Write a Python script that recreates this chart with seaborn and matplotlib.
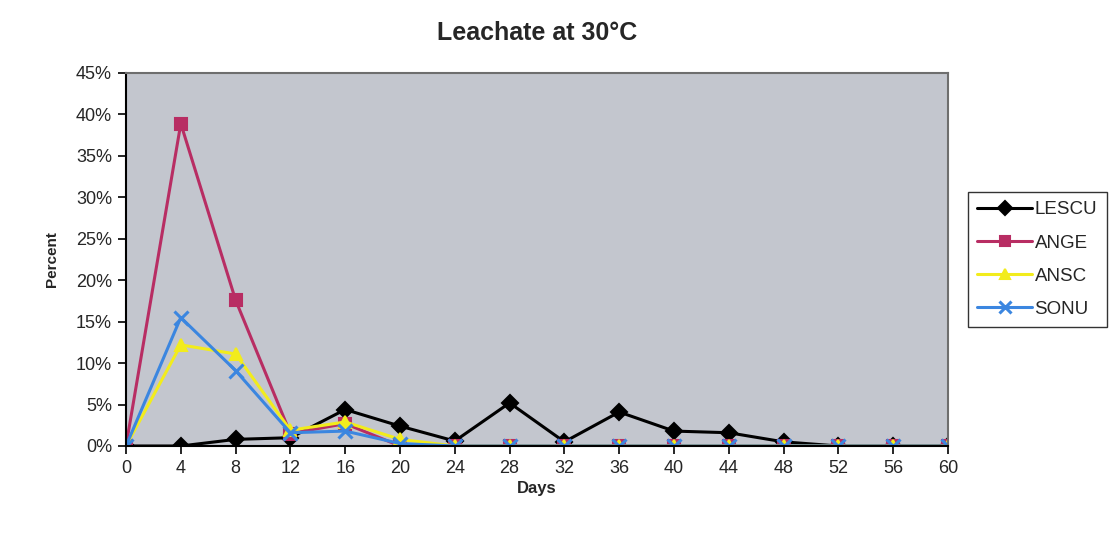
import matplotlib
matplotlib.use("Agg")
import matplotlib.pyplot as plt
import matplotlib.colors as mcolors
import seaborn as sns
import pandas as pd
from matplotlib.ticker import PercentFormatter

days = [0, 4, 8, 12, 16, 20, 24, 28, 32, 36, 40, 44, 48, 52, 56, 60]
lescu = [0.0, 0.0, 0.8, 1.0, 4.4, 2.4, 0.6, 5.2, 0.5, 4.1, 1.8, 1.6, 0.5, 0.0, 0.0, 0.0]
ange = [0.0, 38.9, 17.6, 1.5, 2.7, 0.0, 0.0, 0.0, 0.0, 0.0, 0.0, 0.0, 0.0, 0.0, 0.0, 0.0]
ansc = [0.0, 12.2, 11.1, 1.9, 2.9, 0.8, 0.0, 0.0, 0.0, 0.0, 0.0, 0.0, 0.0, 0.0, 0.0, 0.0]
sonu = [0.0, 15.5, 9.1, 1.6, 1.8, 0.3, 0.0, 0.0, 0.0, 0.0, 0.0, 0.0, 0.0, 0.0, 0.0, 0.0]
series_names = ["LESCU", "ANGE", "ANSC", "SONU"]

frames = []
for name, vals in zip(series_names, [lescu, ange, ansc, sonu]):
    frames.append(pd.DataFrame({"Days": days, "Percent": vals, "Series": name}))
df = pd.concat(frames, ignore_index=True)

palette = {"LESCU": "#000000", "ANGE": "#b82d63", "ANSC": "#f2ec1c", "SONU": "#3b86e0"}
markers = {"LESCU": "D", "ANGE": "s", "ANSC": "^", "SONU": "X"}

sns.set_style("white")
plt.rcParams["font.family"] = ["Liberation Sans", "DejaVu Sans"]

fig = plt.figure(figsize=(11.15, 5.58), dpi=100)
fig.patch.set_facecolor("white")
ax = fig.add_axes([126 / 1115, 1 - 446 / 558, (948 - 126) / 1115, (446 - 73) / 558])
ax.set_facecolor("#c3c6ce")

sns.lineplot(data=df, x="Days", y="Percent", hue="Series", style="Series",
             palette=palette, markers=markers, dashes=False, linewidth=2.2,
             markersize=8, ax=ax, legend=True)

sonu_rgb = mcolors.to_rgb(palette["SONU"])


def restyle(ln, ms):
    c = ln.get_color()
    ln.set_markeredgecolor(c)
    ln.set_markeredgewidth(1.5)
    ln.set_markersize(ms)
    if mcolors.to_rgb(c) == sonu_rgb:
        ln.set_marker("x")
        ln.set_markersize(ms + 2)
        ln.set_markeredgewidth(2.2)


for ln in ax.lines:
    restyle(ln, 8)

ax.set_xlim(0, 60)
ax.set_ylim(0, 45)
ax.set_xticks(days)
ax.set_yticks(range(0, 46, 5))
ax.yaxis.set_major_formatter(PercentFormatter(decimals=0))
ax.tick_params(axis="both", direction="out", length=6, width=1.2, color="black",
               labelsize=13, pad=4, left=True, bottom=True)
ax.grid(False)

for side in ["left", "bottom"]:
    ax.spines[side].set_color("black")
    ax.spines[side].set_linewidth(1.5)
for side in ["top", "right"]:
    ax.spines[side].set_visible(True)
    ax.spines[side].set_color("#6e6e6e")
    ax.spines[side].set_linewidth(1.5)

ax.set_title("Leachate at 30°C", fontsize=18, fontweight="bold", pad=24)
ax.set_xlabel("Days", fontsize=12, fontweight="bold", labelpad=3)
ax.set_ylabel("Percent", fontsize=11, fontweight="bold", labelpad=12)

handles, labels = ax.get_legend_handles_labels()
for h in handles:
    restyle(h, 7)
leg = fig.legend(handles, labels, loc="upper left",
                 bbox_to_anchor=(968 / 1115, 1 - 192 / 558),
                 frameon=True, fancybox=False, fontsize=13.5,
                 handlelength=2.9, handletextpad=0.15, labelspacing=0.85,
                 borderpad=0.5, borderaxespad=0)
leg.get_frame().set_edgecolor("black")
leg.get_frame().set_linewidth(1.0)
if ax.get_legend():
    ax.get_legend().remove()

fig.savefig("out.png", dpi=100, facecolor="white")
